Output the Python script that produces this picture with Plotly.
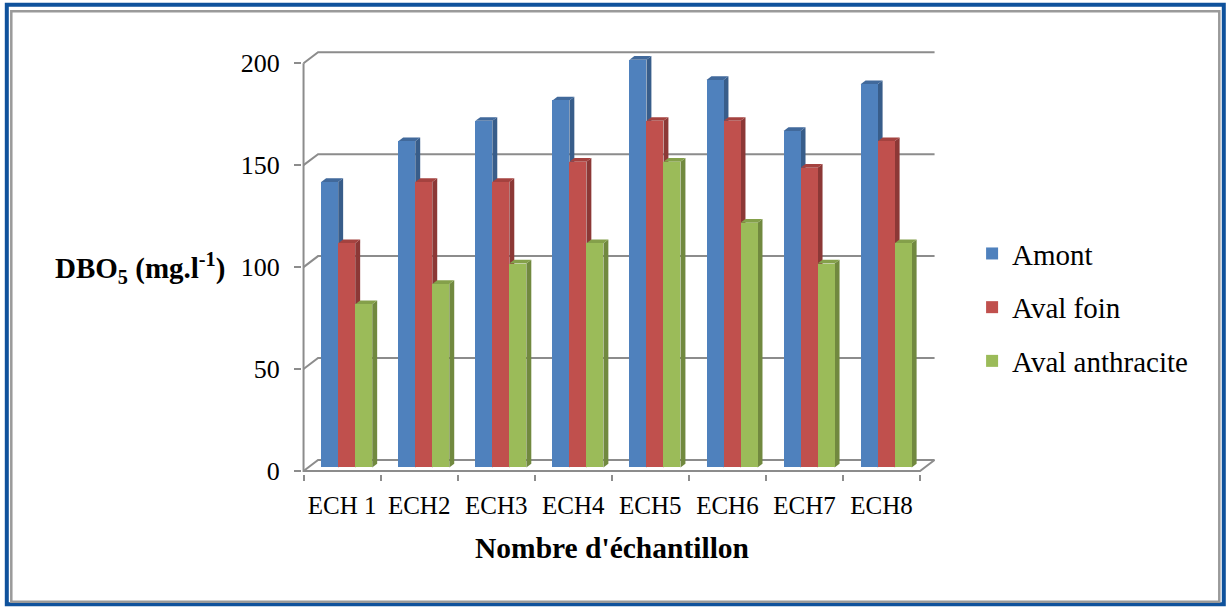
import plotly.graph_objects as go

# ---- data -------------------------------------------------------------
categories = ["ECH 1", "ECH2", "ECH3", "ECH4", "ECH5", "ECH6", "ECH7", "ECH8"]
amont = [140, 160, 170, 180, 200, 190, 165, 188]
aval_foin = [110, 140, 140, 150, 170, 170, 147, 160]
aval_anthracite = [80, 90, 100, 110, 150, 120, 100, 110]
series_names = ["Amont", "Aval foin", "Aval anthracite"]
y_ticks = [0, 50, 100, 150, 200]

series_values = [amont, aval_foin, aval_anthracite]
front_colors = ["#4F81BD", "#C0504D", "#9BBB59"]
side_colors = ["#385D8A", "#8C3836", "#71893F"]
top_colors = ["#41699B", "#A4423F", "#84A04A"]

# ---- geometry (pixel layout of the pseudo-3D box) ---------------------
W, H = 1227, 607
X_MIN, X_MAX = -0.52, 7.72
Y_MIN, Y_MAX = -1.5, 206.0
PX_PER_Y = 2.04
PX_PER_X = 77.0
PL = 304 + (X_MIN + 0.5) * PX_PER_X
PR = PL + (X_MAX - X_MIN) * PX_PER_X
PB = 471 - Y_MIN * PX_PER_Y
PT = PB - (Y_MAX - Y_MIN) * PX_PER_Y

DX = 14.5 / PX_PER_X          # oblique depth offset, x data units
DY = 11.0 / PX_PER_Y          # oblique depth offset, value units
F0, F1 = 0.32, 0.66           # depth span of the columns
BW = 17.0 / PX_PER_X          # column width
n = len(categories)
x_left, x_right = -0.5, n - 0.5

GRID = "#8C8C8C"
FONT = "Liberation Serif, Times New Roman, serif"


def to_paper(px, py):
    return (px - PL) / (PR - PL), (PB - py) / (PB - PT)


fig = go.Figure()
shapes = []

# walls: gridlines on side + back wall
for v in y_ticks:
    shapes.append(dict(
        type="path", layer="below", xref="x", yref="y",
        path=f"M{x_left},{v} L{x_left + DX},{v + DY} L{x_right + DX},{v + DY}",
        line=dict(color=GRID, width=2)))
# front vertical axis line and floor edges
shapes.append(dict(type="path", layer="below", xref="x", yref="y",
                   path=f"M{x_left},{y_ticks[-1]} L{x_left},0 L{x_right},0 L{x_right + DX},{DY}",
                   line=dict(color=GRID, width=2)))

# side and top faces of the columns
ddx = (F1 - F0) * DX
ddy = (F1 - F0) * DY
base = F0 * DY
for i in range(n):
    for j, vals in enumerate(series_values):
        v = vals[i]
        xl = i + F0 * DX + (j - 1.5) * BW
        xr = xl + BW
        t = base + v
        shapes.append(dict(
            type="path", layer="below", xref="x", yref="y",
            path=f"M{xr},{base} L{xr + ddx},{base + ddy} L{xr + ddx},{t + ddy} L{xr},{t} Z",
            fillcolor=side_colors[j], line=dict(width=0)))
        shapes.append(dict(
            type="path", layer="below", xref="x", yref="y",
            path=f"M{xl},{t} L{xr},{t} L{xr + ddx},{t + ddy} L{xl + ddx},{t + ddy} Z",
            fillcolor=top_colors[j], line=dict(width=0)))

# front faces of the columns
for j, (name, vals) in enumerate(zip(series_names, series_values)):
    fig.add_trace(go.Bar(
        x=[i + F0 * DX + (j - 1) * BW for i in range(n)],
        y=vals, base=base, width=BW, name=name,
        legendgroup=name,
        marker=dict(color=front_colors[j], line=dict(width=0)),
        customdata=categories, textposition="none",
        hovertemplate="%{customdata}: %{y}<extra>" + name + "</extra>"))

# outer frames
x0, y0 = to_paper(7.5, 4.5)
x1, y1 = to_paper(1223.5, 604.5)
shapes.append(dict(type="rect", xref="paper", yref="paper", layer="above",
                   x0=x0, y0=y0, x1=x1, y1=y1, line=dict(color="#0F529C", width=4)))
x0, y0 = to_paper(12, 11)
x1, y1 = to_paper(1219, 602)
shapes.append(dict(type="rect", xref="paper", yref="paper", layer="above",
                   x0=x0, y0=y0, x1=x1, y1=y1, line=dict(color="#9A9A9A", width=2.5)))

annotations = []
ax, ay = to_paper(141, 268)
annotations.append(dict(
    xref="paper", yref="paper", x=ax, y=ay, xanchor="center", yanchor="middle",
    showarrow=False,
    text="<b>DBO<sub>5</sub> (mg.l<sup>-1</sup>)</b>",
    font=dict(family=FONT, size=29, color="black")))
ax, ay = to_paper(612, 548)
annotations.append(dict(
    xref="paper", yref="paper", x=ax, y=ay, xanchor="center", yanchor="middle",
    showarrow=False,
    text="<b>Nombre d'échantillon</b>",
    font=dict(family=FONT, size=29.5, color="black")))

lx, ly = to_paper(972, 228)
fig.update_layout(
    width=W, height=H,
    margin=dict(l=PL, r=W - PR, t=PT, b=H - PB, pad=0),
    paper_bgcolor="white", plot_bgcolor="white",
    barmode="overlay", bargap=0,
    showlegend=True,
    legend=dict(x=lx, y=ly, xanchor="left", yanchor="top",
                traceorder="grouped", tracegroupgap=13,
                font=dict(family=FONT, size=29, color="black"),
                bgcolor="rgba(0,0,0,0)"),
    xaxis=dict(range=[X_MIN, X_MAX], showgrid=False, zeroline=False, showline=False,
               tickmode="array", tickvals=list(range(n)), ticktext=categories,
               ticks="", ticklabelstandoff=14,
               tickfont=dict(family=FONT, size=25, color="black"),
               minor=dict(tickmode="array",
                          tickvals=[k - 0.5 for k in range(n + 1)],
                          ticks="outside", ticklen=6, tickwidth=2, tickcolor=GRID),
               fixedrange=True),
    yaxis=dict(range=[Y_MIN, Y_MAX], showgrid=False, zeroline=False, showline=False,
               tickmode="array", tickvals=y_ticks,
               ticks="outside", ticklen=7, tickwidth=2, tickcolor=GRID,
               ticklabelstandoff=9,
               tickfont=dict(family=FONT, size=26, color="black"),
               fixedrange=True),
    shapes=shapes, annotations=annotations,
    font=dict(family=FONT, color="black"),
)

fig.write_html("out.html")
